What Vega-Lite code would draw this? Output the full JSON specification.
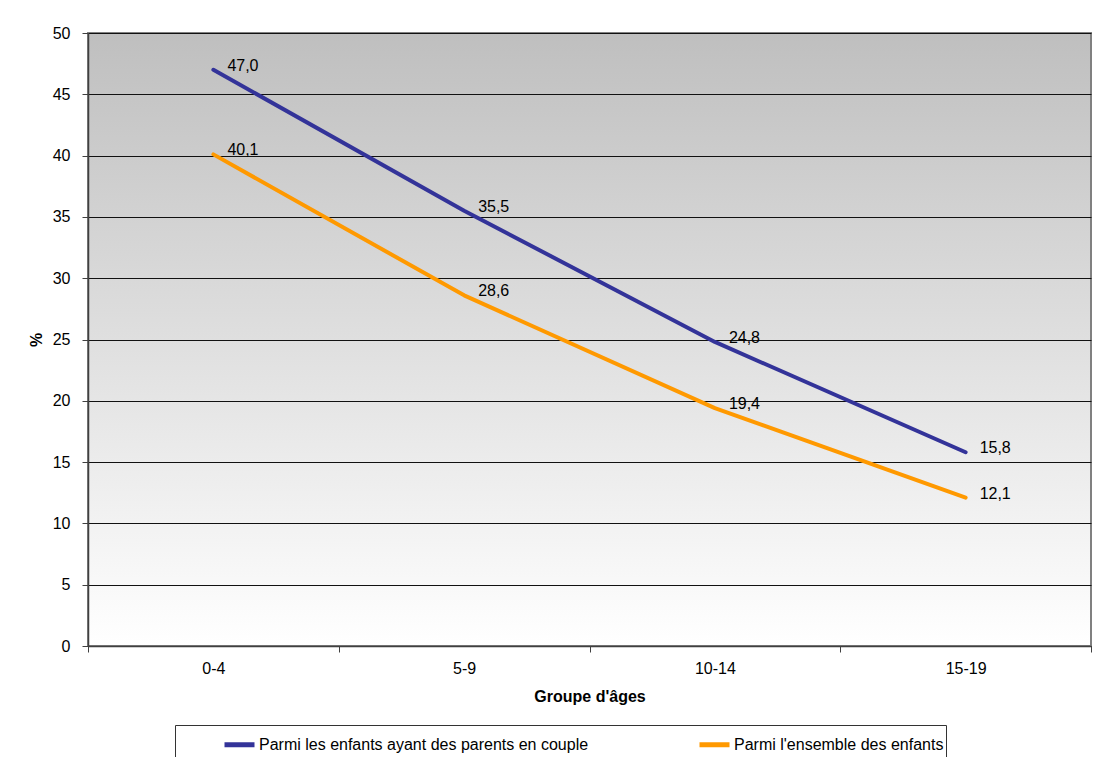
{
  "$schema": "https://vega.github.io/schema/vega-lite/v6.json",
  "width": 1003,
  "height": 613,
  "autosize": {"type": "none"},
  "padding": {"left": 88, "top": 33, "right": 7, "bottom": 111},
  "background": "white",
  "data": {
    "values": [
      {"age": "0-4", "serie": "Parmi les enfants ayant des parents en couple", "pct": 47.0},
      {"age": "5-9", "serie": "Parmi les enfants ayant des parents en couple", "pct": 35.5},
      {"age": "10-14", "serie": "Parmi les enfants ayant des parents en couple", "pct": 24.8},
      {"age": "15-19", "serie": "Parmi les enfants ayant des parents en couple", "pct": 15.8},
      {"age": "0-4", "serie": "Parmi l'ensemble des enfants", "pct": 40.1},
      {"age": "5-9", "serie": "Parmi l'ensemble des enfants", "pct": 28.6},
      {"age": "10-14", "serie": "Parmi l'ensemble des enfants", "pct": 19.4},
      {"age": "15-19", "serie": "Parmi l'ensemble des enfants", "pct": 12.1}
    ]
  },
  "encoding": {
    "x": {
      "field": "age",
      "type": "ordinal",
      "sort": ["0-4", "5-9", "10-14", "15-19"],
      "scale": {"type": "band", "paddingInner": 0, "paddingOuter": 0},
      "axis": {
        "title": "Groupe d'âges",
        "titleFontWeight": "bold",
        "titleFontSize": 16,
        "titlePadding": 12,
        "labelAngle": 0,
        "labelFontSize": 16,
        "labelPadding": 8,
        "tickBand": "extent",
        "tickSize": 6,
        "tickColor": "#404040",
        "domainColor": "#404040",
        "domainWidth": 1.5,
        "grid": false
      }
    },
    "y": {
      "field": "pct",
      "type": "quantitative",
      "scale": {"domain": [0, 50], "nice": false},
      "axis": {
        "title": "%",
        "titleFontWeight": "bold",
        "titleFontSize": 16,
        "titlePadding": 8,
        "values": [0, 5, 10, 15, 20, 25, 30, 35, 40, 45, 50],
        "format": "d",
        "labelFontSize": 16,
        "labelPadding": 12,
        "tickSize": 6,
        "tickColor": "#404040",
        "domainColor": "#404040",
        "domainWidth": 1.5,
        "grid": true,
        "gridColor": "#111111",
        "gridWidth": 1,
        "gridOpacity": 1
      }
    }
  },
  "layer": [
    {
      "mark": {"type": "line", "strokeWidth": 4, "strokeCap": "round", "strokeJoin": "round"},
      "encoding": {
        "color": {
          "field": "serie",
          "type": "nominal",
          "sort": ["Parmi les enfants ayant des parents en couple", "Parmi l'ensemble des enfants"],
          "scale": {
            "domain": ["Parmi les enfants ayant des parents en couple", "Parmi l'ensemble des enfants"],
            "range": ["#333399", "#FF9900"]
          },
          "legend": {
            "orient": "none",
            "legendX": 87,
            "legendY": 692,
            "direction": "horizontal",
            "title": " ",
            "titleOrient": "left",
            "titlePadding": 45,
            "padding": 2,
            "strokeColor": "#333333",
            "fillColor": "white",
            "symbolType": "stroke",
            "symbolSize": 900,
            "symbolStrokeWidth": 5,
            "labelFontSize": 16,
            "labelColor": "black",
            "labelOffset": 2,
            "labelLimit": 0,
            "columnPadding": 100
          }
        }
      }
    },
    {
      "mark": {"type": "text", "align": "left", "baseline": "middle", "dx": 14, "dy": -4, "fontSize": 16, "color": "black"},
      "encoding": {
        "text": {"field": "pct", "type": "quantitative", "format": ".1f"},
        "detail": {"field": "serie"}
      }
    }
  ],
  "config": {
    "font": "Liberation Sans",
    "locale": {"number": {"decimal": ",", "thousands": " ", "grouping": [3], "currency": ["", " €"]}},
    "axis": {"labelColor": "black", "titleColor": "black"},
    "view": {
      "stroke": "#808080",
      "strokeWidth": 2,
      "fill": {
        "gradient": "linear",
        "x1": 0, "y1": 0, "x2": 0, "y2": 1,
        "stops": [
          {"offset": 0, "color": "#bfbfbf"},
          {"offset": 1, "color": "#ffffff"}
        ]
      }
    }
  }
}
